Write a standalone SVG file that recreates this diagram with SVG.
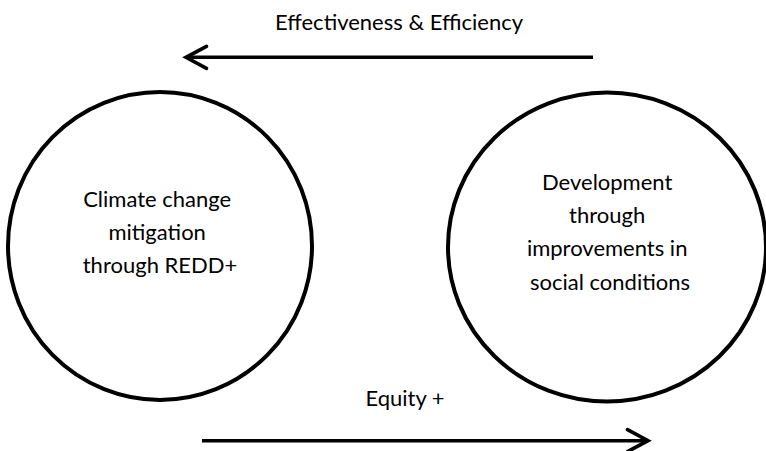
<svg xmlns="http://www.w3.org/2000/svg" width="766" height="451" viewBox="0 0 766 451">
  <style>
    .node { fill: #ffffff; stroke: #000000; stroke-width: 4; }
    .label { font-family: Lato, "Liberation Sans", sans-serif; font-size: 22px; fill: #000000; text-anchor: middle; }
    .edge { fill: none; stroke: #000000; stroke-width: 3.4; }
  </style>
  <defs>
    <!-- open chevron arrowhead, tip at the path end -->
    <marker id="chevron" markerUnits="userSpaceOnUse" markerWidth="32" markerHeight="32" viewBox="-26 -16 32 32" refX="0" refY="0" orient="auto" overflow="visible">
      <path d="M-20.5,-11 L0,0 L-20.5,11" fill="none" stroke="#000000" stroke-width="3.6" stroke-linejoin="miter" stroke-linecap="round"/>
    </marker>
  </defs>
  <rect width="766" height="451" fill="#ffffff"/>

  <g id="node-climate">
    <ellipse class="node" cx="160" cy="246" rx="152" ry="154"/>
    <text class="label">
      <tspan x="160" y="206.5">Climate change</tspan>
      <tspan x="160" y="239.5">mitigation</tspan>
      <tspan x="160" y="272.5">through REDD+</tspan>
    </text>
  </g>

  <g id="node-development">
    <ellipse class="node" cx="607" cy="247" rx="159" ry="154.5"/>
    <text class="label">
      <tspan x="610" y="189.5">Development</tspan>
      <tspan x="610" y="222.5">through</tspan>
      <tspan x="610" y="256">improvements in</tspan>
      <tspan x="610" y="289.5">social conditions</tspan>
    </text>
  </g>

  <g id="connectors">
    <g id="edge-effectiveness">
      <path class="edge" d="M593,57.3 L186,57.3" marker-end="url(#chevron)"/>
      <text class="label" x="399" y="30">Effectiveness &amp; Efficiency</text>
    </g>
    <g id="edge-equity">
      <path class="edge" d="M202,440.7 L648,440.7" marker-end="url(#chevron)"/>
      <text class="label" x="405" y="406">Equity +</text>
    </g>
  </g>
</svg>
